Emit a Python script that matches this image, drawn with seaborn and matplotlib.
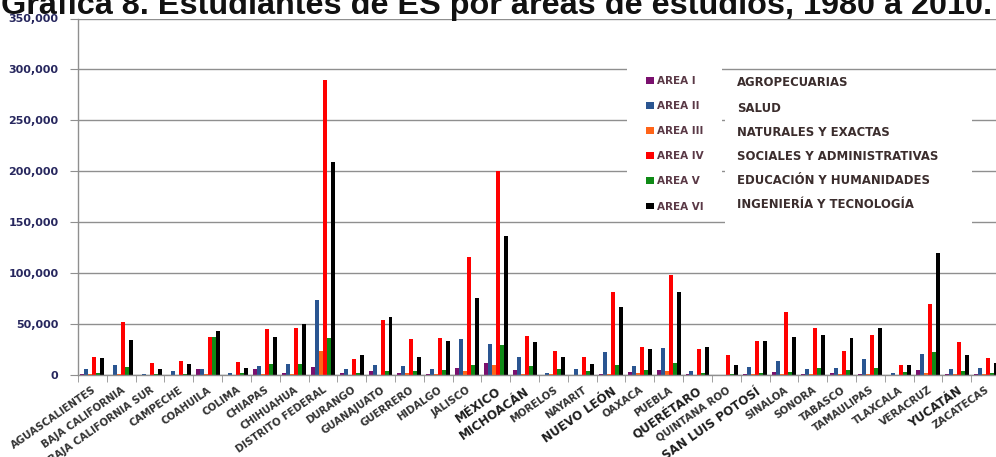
import matplotlib
matplotlib.use("Agg")
import matplotlib.pyplot as plt
import seaborn as sns
import pandas as pd
import numpy as np
from matplotlib.patches import Patch, Rectangle
from matplotlib.ticker import FuncFormatter, FixedLocator

states = ["AGUASCALIENTES", "BAJA CALIFORNIA", "BAJA CALIFORNIA SUR", "CAMPECHE",
          "COAHUILA", "COLIMA", "CHIAPAS", "CHIHUAHUA", "DISTRITO FEDERAL", "DURANGO",
          "GUANAJUATO", "GUERRERO", "HIDALGO", "JALISCO", "MÉXICO", "MICHOACÁN",
          "MORELOS", "NAYARIT", "NUEVO LEÓN", "OAXACA", "PUEBLA", "QUERÉTARO",
          "QUINTANA ROO", "SAN LUIS POTOSÍ", "SINALOA", "SONORA", "TABASCO",
          "TAMAULIPAS", "TLAXCALA", "VERACRUZ", "YUCATÁN", "ZACATECAS"]
big_labels = ["MÉXICO", "MICHOACÁN", "NUEVO LEÓN", "QUERÉTARO", "SAN LUIS POTOSÍ", "YUCATÁN"]

areas = ["AREA I", "AREA II", "AREA III", "AREA IV", "AREA V", "AREA VI"]
descriptions = ["AGROPECUARIAS", "SALUD", "NATURALES Y EXACTAS",
                "SOCIALES Y ADMINISTRATIVAS", "EDUCACIÓN Y HUMANIDADES",
                "INGENIERÍA Y TECNOLOGÍA"]

area1 = [1000, 400, 200, 300, 6200, 300, 5500, 1600, 8200, 2300, 3600, 1600, 1300, 7200,
         11800, 4600, 400, 300, 1300, 3300, 5000, 500, 200, 700, 3300, 700, 2000, 1000,
         300, 5000, 700, 700]
area2 = [5500, 9500, 500, 3900, 6200, 1600, 9200, 10500, 73700, 6200, 9500, 8900, 5500,
         35000, 30600, 18100, 2300, 5500, 23000, 8900, 26700, 4300, 400, 7700, 13700,
         6000, 7300, 15700, 2000, 20700, 5700, 6400]
area3 = [500, 600, 200, 300, 500, 300, 1300, 1000, 24000, 300, 300, 1600, 700, 4200,
         9500, 1300, 1300, 300, 1000, 1600, 3700, 300, 200, 500, 1300, 1300, 1300, 500,
         300, 2300, 1000, 500]
area4 = [17400, 52000, 11800, 13400, 37200, 13100, 44800, 46400, 290000, 16100, 54300,
         35600, 36000, 116000, 200500, 38500, 23700, 17400, 81600, 27000, 98000, 25700,
         19700, 33700, 61700, 46000, 23300, 39700, 9700, 69700, 32000, 16700]
area5 = [2300, 7900, 1300, 1300, 37200, 2300, 11200, 11200, 36600, 2300, 4200, 4200, 4900,
         9500, 29600, 9200, 5500, 3900, 9500, 4600, 11300, 1500, 1000, 2300, 3300, 7300,
         5000, 6700, 3300, 22300, 3700, 1700]
area6 = [16400, 34200, 5500, 10500, 42800, 7200, 37200, 50000, 209000, 19400, 56900,
         18100, 33000, 75700, 136000, 32000, 18100, 11200, 66500, 25300, 81300, 27300,
         9700, 33000, 37000, 39700, 36300, 46000, 10300, 119300, 20000, 12000]

colors = ["#7a106e", "#2a5591", "#ff6418", "#ff0000", "#0f8a16", "#000000"]

series = [area1, area2, area3, area4, area5, area6]
df = pd.DataFrame({
    "estado": np.repeat(np.array(states, dtype=object)[None, :], 6, axis=0).ravel(),
    "area": np.repeat(areas, len(states)),
    "valor": np.concatenate([np.array(s, dtype=float) for s in series]),
})

W, H = 996, 457
fig = plt.figure(figsize=(W / 100, H / 100), dpi=100)
ax = fig.add_axes([78 / W, (H - 375) / H, (1000 - 78) / W, (375 - 18.5) / H])

sns.barplot(data=df, x="estado", y="valor", hue="area", order=states, hue_order=areas,
            palette=colors, width=0.83, linewidth=0, errorbar=None, ax=ax, legend=False,
            saturation=1)

ax.set_ylim(0, 350000)
ax.set_xlim(-0.5, len(states) - 0.5)
ax.yaxis.set_major_locator(FixedLocator(np.arange(0, 350001, 50000)))
ax.yaxis.set_major_formatter(FuncFormatter(lambda v, p: f"{int(v):,}"))
ax.set_axisbelow(True)
ax.grid(axis="y", color="#8f8f8f", linewidth=1.0)
ax.grid(axis="x", visible=False)
ax.set_xlabel("")
ax.set_ylabel("")
ax.set_facecolor("white")
for s in ["top", "right"]:
    ax.spines[s].set_visible(False)
for s in ["left", "bottom"]:
    ax.spines[s].set_color("#8f8f8f")
    ax.spines[s].set_linewidth(1.0)

ax.tick_params(axis="y", length=6, color="#8f8f8f", labelsize=8, labelcolor="#27275e", pad=8)
for t in ax.get_yticklabels():
    t.set_fontweight("bold")

ax.set_xticks(range(len(states)))
ax.set_xticks(np.arange(-0.5, len(states), 1.0), minor=True)
ax.tick_params(axis="x", which="major", length=0, pad=7)
ax.tick_params(axis="x", which="minor", length=5, color="#8f8f8f")
ax.set_xticklabels(states)
for t in ax.get_xticklabels():
    big = t.get_text() in big_labels
    t.set_rotation(35)
    t.set_ha("right")
    t.set_va("top")
    t.set_rotation_mode("anchor")
    t.set_fontweight("bold")
    t.set_fontsize(8.6 if big else 7.3)
    t.set_color("#1e1e1e" if big else "#333333")

# white boxes behind legend and description text
ax.add_patch(Rectangle((627 / W, 1 - 218 / H), (722 - 627) / W, (218 - 62) / H,
                       transform=fig.transFigure, facecolor="white", edgecolor="none",
                       zorder=2.5, clip_on=False))
ax.add_patch(Rectangle((725 / W, 1 - 228 / H), (972 - 725) / W, (228 - 76) / H,
                       transform=fig.transFigure, facecolor="white", edgecolor="none",
                       zorder=2.5, clip_on=False))

handles = [Patch(facecolor=c, edgecolor="none") for c in colors]
leg = ax.legend(handles, areas, loc="upper left", bbox_to_anchor=(646 / W, 1 - 76 / H),
                bbox_transform=fig.transFigure, frameon=False, fontsize=7.5,
                handlelength=0.75, handleheight=0.6, handletextpad=0.35,
                labelspacing=1.45, borderpad=0, borderaxespad=0)
for t in leg.get_texts():
    t.set_fontweight("bold")
    t.set_color("#5a3946")
leg.set_zorder(6)

desc_y = [83, 108, 132, 157, 181, 205]
for d, yy in zip(descriptions, desc_y):
    fig.text(737 / W, 1 - yy / H, d, fontsize=8.4, fontweight="bold", color="#3b2d2d",
             ha="left", va="center", zorder=7)

fig.text(0.4985, 1 - 14 / H,
         "Gráfica 8. Estudiantes de ES por áreas de estudios, 1980 a 2010.",
         fontsize=23.3, fontweight="bold", family="Liberation Sans", color="#111111",
         ha="center", va="baseline")

fig.savefig("out.png", dpi=100, facecolor="white")
